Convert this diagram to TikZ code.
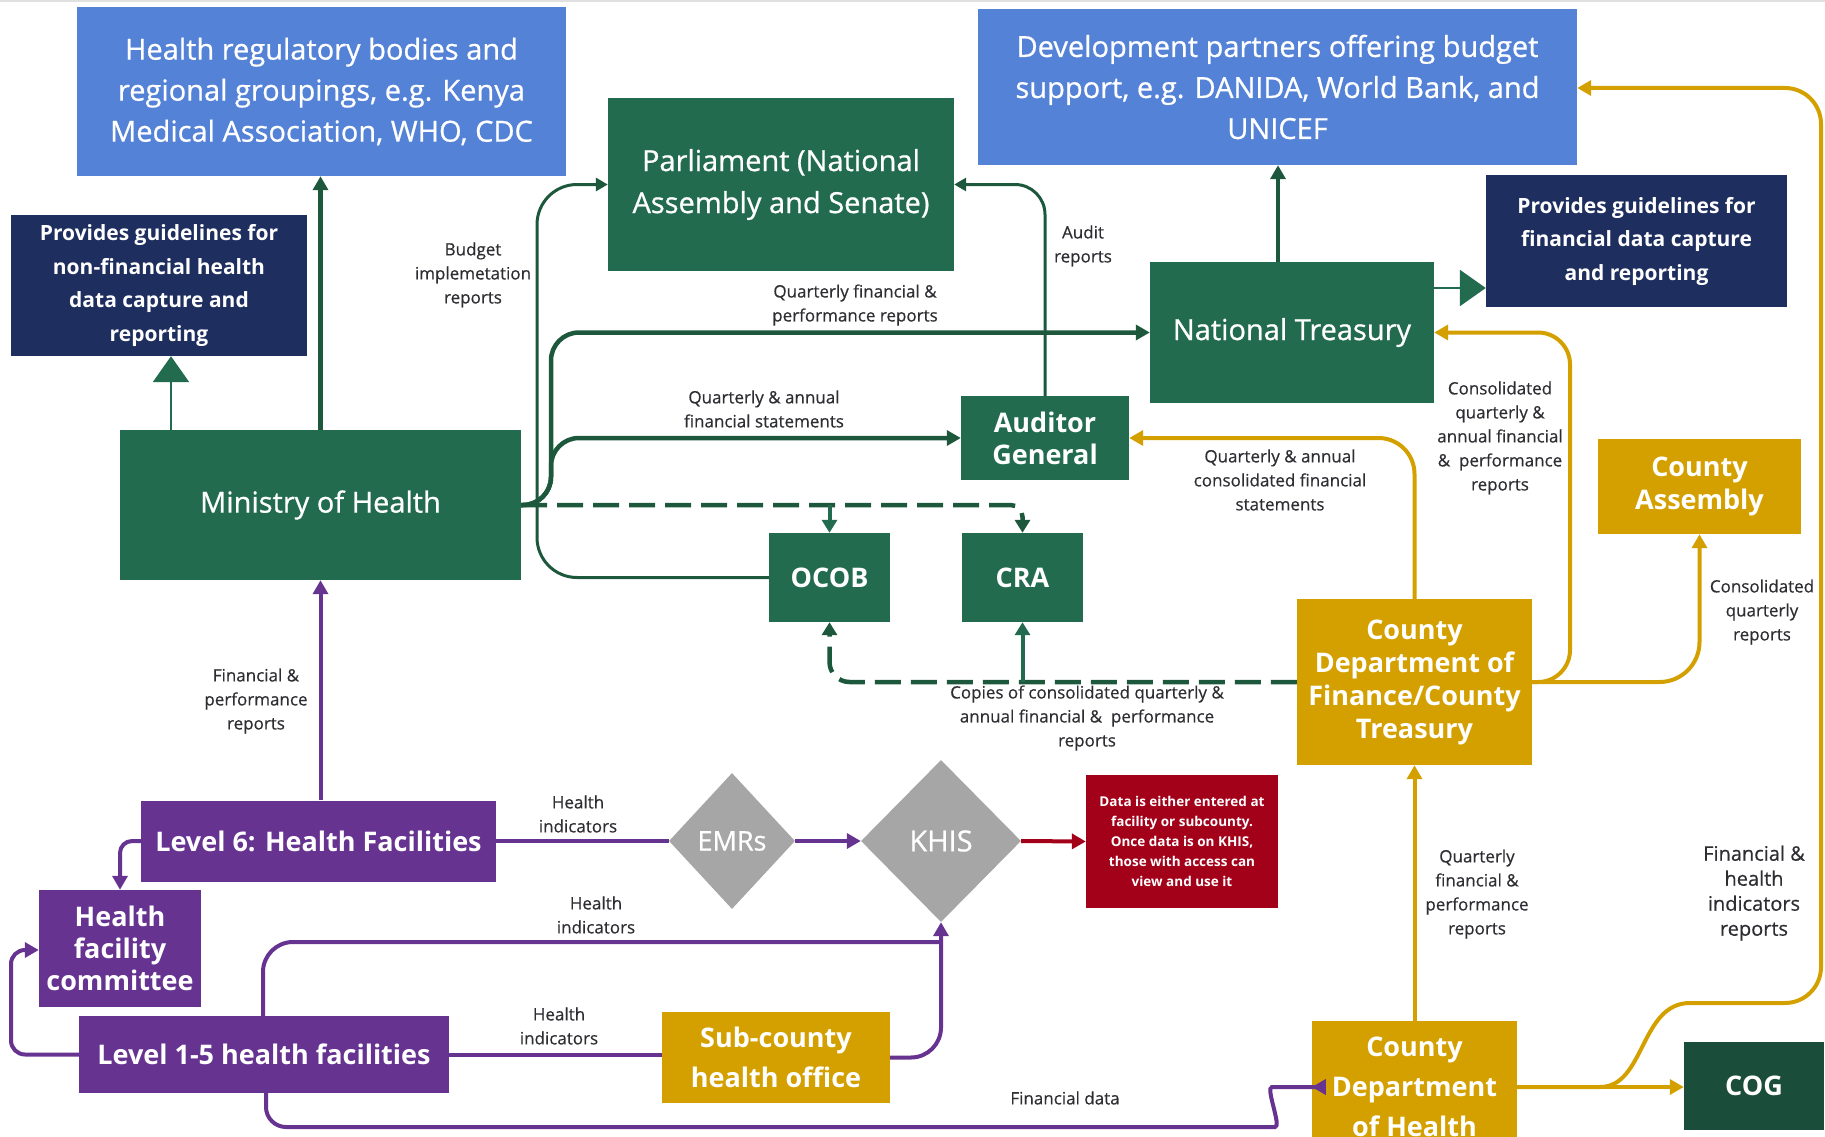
\documentclass[tikz,border=0pt]{standalone}
\usepackage{fontspec}
\setmainfont{Open Sans}
\newfontfamily\medfont{Open Sans}[FakeBold=0.7]
\newfontfamily\lblfont{Open Sans}[FakeBold=0.45]
\usetikzlibrary{shapes.geometric,arrows.meta}
\definecolor{moblue}{RGB}{84,130,214}
\definecolor{monavy}{RGB}{30,46,94}
\definecolor{mogreen}{RGB}{34,107,79}
\definecolor{moline}{RGB}{29,88,60}
\definecolor{mocog}{RGB}{26,77,58}
\definecolor{mogold}{RGB}{212,160,0}
\definecolor{mopurple}{RGB}{102,51,145}
\definecolor{mogray}{RGB}{166,166,166}
\definecolor{mored}{RGB}{163,0,26}
\definecolor{motext}{RGB}{45,45,50}

\begin{document}
\begin{tikzpicture}[x=1pt,y=-1pt]
	\tikzset{box/.style={rectangle,inner sep=0pt,align=center,text=white}}
	\tikzset{sz/.style 2 args={minimum width=#1,minimum height=#2}}
	\tikzset{bluebox/.style={box,fill=moblue,font=\medfont\fontsize{29}{41}\selectfont}}
	\tikzset{navybox/.style={box,fill=monavy,font=\bfseries\fontsize{21}{33.5}\selectfont}}
	\tikzset{greenbox/.style={box,fill=mogreen,font=\medfont\fontsize{29}{42}\selectfont}}
	\tikzset{greenbold/.style={box,fill=mogreen,font=\bfseries\fontsize{27}{32}\selectfont}}
	\tikzset{goldbox/.style={box,fill=mogold,font=\bfseries\fontsize{27}{33}\selectfont}}
	\tikzset{purplebox/.style={box,fill=mopurple,font=\bfseries\fontsize{27}{32}\selectfont}}
	\tikzset{sysbox/.style={diamond,fill=mogray,inner sep=0pt,text=white,font=\medfont\fontsize{27}{32}\selectfont}}
	\tikzset{lbl/.style={text=motext,align=center,inner sep=0pt,font=\lblfont\fontsize{17}{24}\selectfont}}
	\tikzset{gthick/.style={draw=moline,line width=4.5pt,-{Triangle[length=14pt,width=15pt]}}}
	\tikzset{gmid/.style={draw=moline,line width=3pt,-{Triangle[length=12pt,width=13pt]}}}
	\tikzset{gbig/.style={draw=mogreen,line width=2.5pt,-{Triangle[length=26pt,width=36pt]}}}
	\tikzset{gdash/.style={draw=moline,line width=4.5pt,dash pattern=on 26pt off 10pt,-{Triangle[length=13pt,width=15pt]}}}
	\tikzset{yline/.style={draw=mogold,line width=4pt,-{Triangle[length=14pt,width=15pt]}}}
	\tikzset{pline/.style={draw=mopurple,line width=4pt,-{Triangle[length=14pt,width=15pt]}}}
	\tikzset{rline/.style={draw=mored,line width=4pt,-{Triangle[length=14pt,width=15pt]}}}
	\useasboundingbox (0,0) rectangle (1825,1137);
	\fill[black!12] (0,0) rectangle (1825,2.5);

	% national level
	\node[bluebox,sz={489}{169}] (hrb) at (321.5,91.5) {Health regulatory bodies and\\regional groupings, e.g. Kenya\\Medical Association, WHO, CDC};
	\node[bluebox,sz={599}{156}] (dp) at (1277.5,87) {Development partners offering budget\\support, e.g. DANIDA, World Bank, and\\UNICEF};
	\node[navybox,sz={296}{141}] (gdl) at (159,285.5) {Provides guidelines for\\non-financial health\\data capture and\\reporting};
	\node[navybox,sz={301}{132}] (gdr) at (1636.5,241) {Provides guidelines for\\financial data capture\\and reporting};
	\node[greenbox,sz={346}{173}] (parl) at (781,184.5) {Parliament (National\\Assembly and Senate)};
	\node[greenbox,sz={284}{141}] (nt) at (1292,332.5) {National Treasury};
	\node[greenbold,sz={168}{84}] (ag) at (1045,438) {Auditor\\General};
	\node[greenbox,sz={401}{150}] (moh) at (320.5,505) {Ministry of Health};
	\node[greenbold,sz={121}{89}] (ocob) at (829.5,577.5) {OCOB};
	\node[greenbold,sz={121}{89}] (cra) at (1022.5,577.5) {CRA};

	% county level
	\node[goldbox,sz={203}{95}] (ca) at (1699.5,486.5) {County\\Assembly};
	\node[goldbox,sz={235}{166}] (cdf) at (1414.5,682) {County\\Department of\\Finance/County\\Treasury};
	\node[goldbox,sz={205}{132},font=\bfseries\fontsize{27}{40}\selectfont] (cdh) at (1414.5,1087) {County\\Department\\of Health};
	\node[greenbold,fill=mocog,sz={140}{88}] (cog) at (1754,1086) {COG};
	\node[goldbox,sz={228}{91},font=\bfseries\fontsize{27}{40}\selectfont] (sub) at (776,1057.5) {Sub-county\\health office};

	% facilities and systems
	\node[purplebox,sz={355}{81}] (lvl6) at (318.5,841) {Level 6: Health Facilities};
	\node[purplebox,sz={162}{117}] (hfc) at (120,948.5) {Health\\facility\\committee};
	\node[purplebox,sz={370}{77}] (lvl15) at (264,1054.5) {Level 1-5 health facilities};
	\node[sysbox,minimum width=126,minimum height=136] (emr) at (732,841) {EMRs};
	\node[sysbox,minimum width=160,minimum height=162,font=\medfont\fontsize{29}{32}\selectfont] (khis) at (941,841) {KHIS};
	\node[box,fill=mored,sz={192}{133},font=\bfseries\fontsize{13.5}{20}\selectfont] (note) at (1182,841.5) {Data is either entered at\\facility or subcounty.\\Once data is on KHIS,\\those with access can\\view and use it};

	% ministry links
	\draw[gthick] (moh.north) -- (moh.north |- hrb.south);
	\draw[gbig] (171,0 |- moh.north) -- (171,0 |- gdl.south);
	\draw[gthick,rounded corners=28] (moh.east) -- (551,505) -- (551,332.5) -- (nt.west);
	\draw[gthick,rounded corners=28] (moh.east) -- (551,505) -- (551,438) -- (ag.west);
	\draw[gdash,rounded corners=12] (moh.east) -- (cra.north |- moh.east) -- (cra.north);
	\draw[draw=mogreen,line width=4pt,-{Triangle[length=13pt,width=15pt]}] (ocob.north |- moh.east) -- (ocob.north);
	\draw[gmid,rounded corners=40] (ocob.west) -- (537,577.5) -- (537,184.5) -- (parl.west);
	\draw[gmid,rounded corners=30] (ag.north) -- (1045,184.5) -- (parl.east);
	\draw[gthick] (1278,0 |- nt.north) -- (1278,0 |- dp.south);
	\draw[gbig] (nt.east |- 0,288) -- (gdr.west |- 0,288);

	% county treasury links
	\draw[yline,rounded corners=32] (cdf.east) -- (1570,682) -- (1570,332.5) -- (nt.east);
	\draw[yline,rounded corners=40] (cdf.east) -- (ca.south |- cdf.east) -- (ca.south);
	\draw[yline,rounded corners=36] (cdf.north) -- (1414.5,438) -- (ag.east);
	\draw[gdash,rounded corners=20] (cdf.west) -- (ocob.south |- cdf.west) -- (ocob.south);
	\draw[draw=mogreen,line width=4pt,-{Triangle[length=13pt,width=15pt]}] (cra.south |- cdf.west) -- (cra.south);
	\draw[yline] (cdh.north) -- (cdf.south);
	\draw[yline] (cdh.east) -- (cdh.east -| cog.west);
	\draw[yline] (cdh.east) -- (1600,1087) .. controls (1645,1087) and (1640,1003) .. (1690,1003)
		[rounded corners=36] -- (1821,1003) -- (1821,88) -- (dp.east |- 0,88);

	% facility links
	\draw[pline] (moh.south |- lvl6.north) -- (moh.south);
	\draw[pline,rounded corners=12] (lvl6.west) -- (hfc.north |- lvl6.west) -- (hfc.north);
	\draw[pline,rounded corners=14] (lvl15.west) -- (11,1054.5) -- (11,950) -- (hfc.west |- 0,950);
	\draw[pline,-] (lvl6.east) -- (emr.west);
	\draw[pline] (emr.east) -- (khis.west);
	\draw[rline] (khis.east) -- (note.west);
	\coordinate (kin) at (941,942);
	\draw[pline,-,rounded corners=30] (263,0 |- lvl15.north) -- (263,942) -- (kin);
	\draw[pline,rounded corners=30] (sub.east) -- (941,1057.5) -- (khis.south);
	\draw[pline,-] (lvl15.east) -- (lvl15.east -| sub.west);
	\draw[pline,rounded corners=20] (266,0 |- lvl15.south) -- (266,1127) -- (1255,1127)
		.. controls (1282,1127) and (1265,1087) .. (1292,1087) -- (cdh.west);

	% labels
	\node[lbl] (lbudget) at (473,275) {Budget\\implemetation\\reports};
	\node[lbl] (laudit) at (1083,246) {Audit\\reports};
	\node[lbl] (lqfp) at (855,305) {Quarterly financial \&\\performance reports};
	\node[lbl] (lqafs) at (764,409) {Quarterly \& annual\\financial statements};
	\node[lbl] (lqacf) at (1280,480) {Quarterly \& annual\\consolidated financial\\statements};
	\node[lbl] (lcons) at (1500,438) {Consolidated\\quarterly \&\\annual financial\\\&~~performance\\reports};
	\node[lbl] (lcq) at (1762,612) {Consolidated\\quarterly\\reports};
	\node[lbl] (lcopies) at (1087,718) {Copies of consolidated quarterly \&\\annual financial \&~~performance\\reports};
	\node[lbl] (lfpr) at (256,701) {Financial \&\\performance\\reports};
	\node[lbl] (lhi1) at (578,814) {Health\\indicators};
	\node[lbl] (lhi2) at (596,915) {Health\\indicators};
	\node[lbl] (lhi3) at (559,1026) {Health\\indicators};
	\node[lbl] (lfin) at (1065,1098) {Financial data};
	\node[lbl] (lqf) at (1477,894) {Quarterly\\financial \&\\performance\\reports};
	\node[lbl,font=\lblfont\fontsize{20}{25}\selectfont] (lfh) at (1754,893) {Financial \&\\health\\indicators\\reports};
\end{tikzpicture}
\end{document}
